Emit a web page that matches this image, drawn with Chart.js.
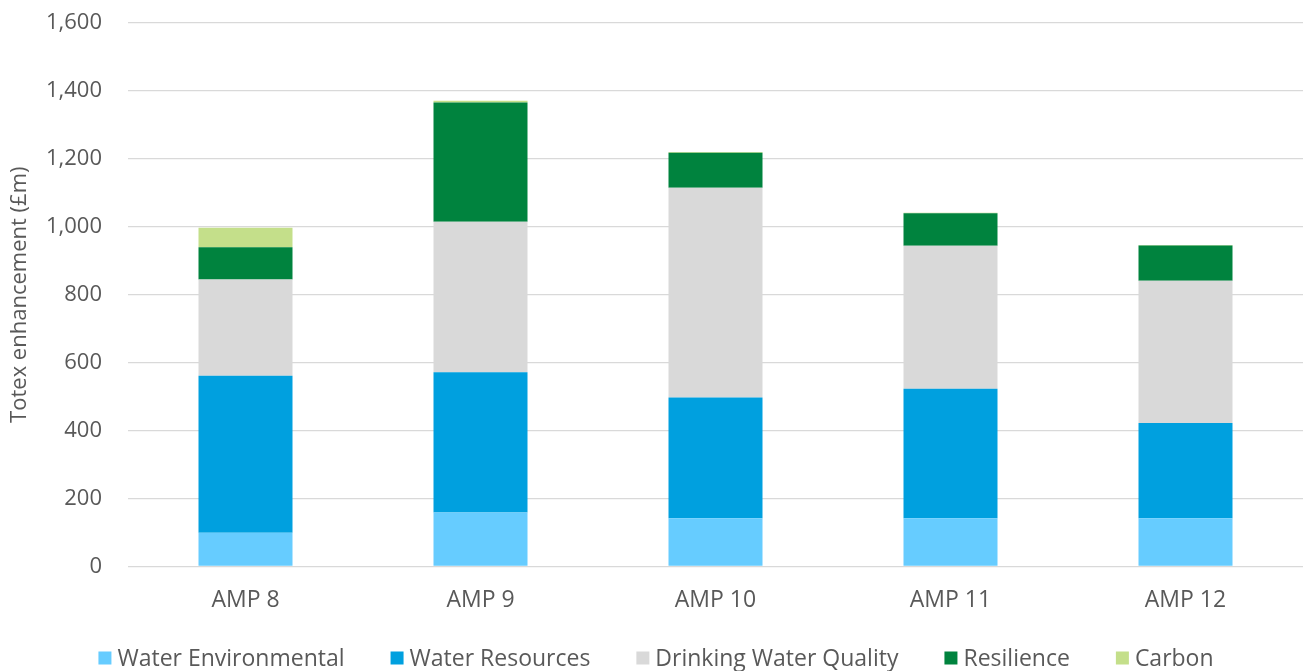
<!DOCTYPE html>
<html>
<head>
<meta charset="utf-8">
<script src="https://cdn.jsdelivr.net/npm/chart.js@4.4.1/dist/chart.umd.min.js"></script>
<style>
  html, body { margin: 0; padding: 0; background: #ffffff; }
  #wrap { width: 1304px; height: 671px; }
</style>
</head>
<body>
<div id="wrap"><canvas id="chart" width="1304" height="671"></canvas></div>
<script>
// AMP periods
const categories = ['AMP 8', 'AMP 9', 'AMP 10', 'AMP 11', 'AMP 12'];

// Totex enhancement by driver (£m)
const waterEnvironmental = [99, 159, 142, 142, 142];
const waterResources     = [462, 413, 355, 381, 280];
const drinkingWaterQuality = [284, 443, 618, 421, 419];
const resilience         = [95, 351, 103, 96, 104];
const carbon             = [57, 5, 2, 1, 1];

const seriesNames = ['Water Environmental', 'Water Resources', 'Drinking Water Quality', 'Resilience', 'Carbon'];
const seriesColors = ['#66CCFF', '#00A0DF', '#D9D9D9', '#00833E', '#C4DF8A'];

const yTicks = { min: 0, max: 1600, step: 200 };
const axisTitle = 'Totex enhancement (£m)';

const textColor = '#595959';
const fontFamily = '"Open Sans", "Noto Sans", sans-serif';

const seriesValues = [waterEnvironmental, waterResources, drinkingWaterQuality, resilience, carbon];
const datasets = seriesNames.map((name, i) => ({
  label: name,
  data: seriesValues[i],
  backgroundColor: seriesColors[i],
  borderWidth: 0,
  barPercentage: 0.4,
  categoryPercentage: 1.0
}));

// Legend row centred under the axis labels
const bottomLegend = {
  id: 'bottomLegend',
  afterDraw(chart) {
    const ctx = chart.ctx;
    const box = 13, gapText = 6, gapItem = 46, fontSize = 23;
    ctx.save();
    ctx.font = fontSize + 'px ' + fontFamily;
    ctx.textBaseline = 'middle';
    const items = chart.data.datasets.map(d => ({ text: d.label, color: d.backgroundColor, w: ctx.measureText(d.label).width }));
    let total = 0;
    items.forEach((it, i) => { total += box + gapText + it.w + (i < items.length - 1 ? gapItem : 0); });
    let x = (chart.width - total) / 2 + 4;
    const y = 658;
    items.forEach(it => {
      ctx.fillStyle = it.color;
      ctx.fillRect(x, y - box / 2, box, box);
      x += box + gapText;
      ctx.fillStyle = textColor;
      ctx.textAlign = 'left';
      ctx.fillText(it.text, x, y + 1);
      x += it.w + gapItem;
    });
    ctx.restore();
  }
};

new Chart(document.getElementById('chart'), {
  type: 'bar',
  data: { labels: categories, datasets },
  options: {
    responsive: false,
    animation: false,
    devicePixelRatio: 1,
    layout: { padding: { top: 23, right: 1, bottom: 37, left: 0 } },
    plugins: {
      legend: { display: false },
      tooltip: { enabled: false }
    },
    scales: {
      x: {
        stacked: true,
        grid: { display: false, drawTicks: false },
        border: { display: false },
        ticks: {
          color: textColor,
          font: { family: fontFamily, size: 23 },
          padding: 20
        }
      },
      y: {
        stacked: true,
        min: yTicks.min,
        max: yTicks.max,
        afterFit(scale) {
          scale.width = 128;
          scale.paddingTop = 0;
        },
        grid: { color: '#D9D9D9', lineWidth: 1.3, drawTicks: false },
        border: { display: false },
        ticks: {
          stepSize: yTicks.step,
          color: textColor,
          font: { family: fontFamily, size: 22 },
          padding: 26,
          callback: v => v.toLocaleString('en-US')
        },
        title: {
          display: true,
          text: axisTitle,
          color: textColor,
          font: { family: fontFamily, size: 22 },
          padding: { top: 7, bottom: 0 }
        }
      }
    }
  },
  plugins: [bottomLegend]
});
</script>
</body>
</html>
